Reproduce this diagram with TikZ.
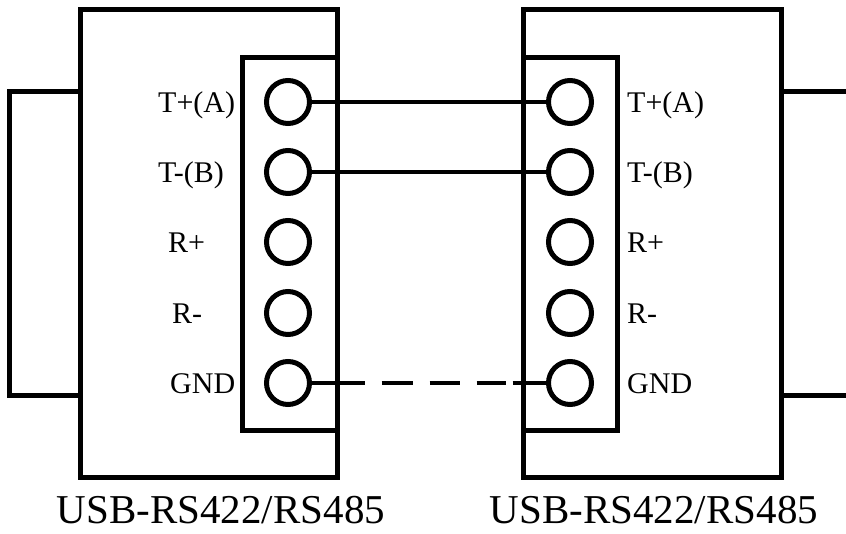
\documentclass[tikz,border=0pt]{standalone}
\usepackage{fontspec}
\setmainfont{Liberation Serif}
\begin{document}
\begin{tikzpicture}[x=1pt,y=-1pt,
  box/.style={draw=black,line width=5pt},
  term/.style={circle,draw=black,line width=5pt,minimum size=43pt,inner sep=0pt},
  pinlbl/.style={inner sep=0pt,font=\fontsize{30}{36}\selectfont},
  devlbl/.style={inner sep=0pt,font=\fontsize{41}{48}\selectfont},
  wire/.style={draw=black,line width=4pt},
  gndwire/.style={draw=black,line width=4pt,dash pattern=on 52.5pt off 17pt on 31pt off 17pt on 30pt off 17pt on 29pt off 7pt on 40pt}]
\useasboundingbox (0,0) rectangle (846,533);
\fill[white] (0,0) rectangle (846,533);
% left device
\draw[box] (80,9) rectangle (337,477);
\draw[box] (9,91) rectangle (80,395);
\draw[box] (242,57) rectangle (337,430);
% right device
\draw[box] (523,9) rectangle (781,477);
\draw[box] (850,91) -- (781,91) (781,395) -- (850,395);
\draw[box] (523,57) rectangle (617,430);
% terminals
\foreach \i/\y in {1/102,2/172,3/242,4/313,5/383}{
  \node[term] (L\i) at (288,\y) {};
  \node[term] (R\i) at (570,\y) {};
}
% pin labels left
\node[pinlbl,anchor=base west] (lt1) at (158,112) {T+(A)};
\node[pinlbl,anchor=base west] (lt2) at (158,182) {T-(B)};
\node[pinlbl,anchor=base west] (lt3) at (168,252) {R+};
\node[pinlbl,anchor=base west] (lt4) at (172,323) {R-};
\node[pinlbl,anchor=base west] (lt5) at (170,393) {GND};
% pin labels right
\node[pinlbl,anchor=base west] (rt1) at (627,112) {T+(A)};
\node[pinlbl,anchor=base west] (rt2) at (627,182) {T-(B)};
\node[pinlbl,anchor=base west] (rt3) at (627,252) {R+};
\node[pinlbl,anchor=base west] (rt4) at (627,323) {R-};
\node[pinlbl,anchor=base west] (rt5) at (627,393) {GND};
% device labels
\node[devlbl,anchor=base] (dl) at (221,523) {USB-RS422/RS485};
\node[devlbl,anchor=base] (dr) at (654,523) {USB-RS422/RS485};
% wires
\draw[wire] (L1.east) -- (R1.west);
\draw[wire] (L2.east) -- (R2.west);
\draw[gndwire] (L5.east) -- (R5.west);
\end{tikzpicture}
\end{document}
